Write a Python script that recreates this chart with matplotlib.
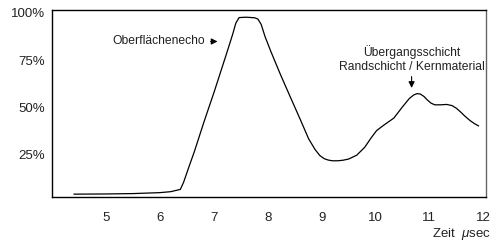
import matplotlib
matplotlib.use("Agg")
import matplotlib.pyplot as plt

plt.rcParams['font.family'] = ['Liberation Sans', 'DejaVu Sans']
plt.rcParams['mathtext.fontset'] = 'custom'
plt.rcParams['mathtext.rm'] = 'Liberation Sans'
plt.rcParams['mathtext.it'] = 'Liberation Sans:italic'

# echo amplitude (%) over time (usec)
zeit = [4.41, 5.0, 5.5, 6.0, 6.2, 6.38, 6.44, 6.55, 6.64, 6.82, 7.01, 7.25, 7.35,
        7.41, 7.47, 7.6, 7.76, 7.82, 7.88, 7.95, 8.06, 8.24, 8.43, 8.6, 8.76,
        8.88, 8.97, 9.05, 9.12, 9.2, 9.3, 9.4, 9.5, 9.65, 9.8, 9.92, 10.02,
        10.15, 10.34, 10.5, 10.63, 10.71, 10.77, 10.83, 10.9, 10.96, 11.03,
        11.1, 11.2, 11.32, 11.42, 11.5, 11.58, 11.66, 11.75, 11.83, 11.91]
amplitude = [4.3, 4.4, 4.6, 5.1, 5.6, 6.8, 10.5, 19.5, 26.7, 42.5, 58.4, 79.5, 88.5,
             94.5, 97.4, 97.6, 97.3, 96.6, 93.8, 87.5, 79.5, 67.2, 54.9, 44.0, 33.5,
             27.8, 24.6, 23.0, 22.3, 21.9, 21.9, 22.2, 22.8, 24.8, 29.0, 34.0, 37.8,
             40.6, 44.4, 50.3, 54.8, 56.6, 57.3, 57.1, 55.8, 54.0, 52.3,
             51.4, 51.4, 51.6, 51.0, 49.6, 47.6, 45.4, 43.2, 41.6, 40.3]

x_ticks = [5, 6, 7, 8, 9, 10, 11, 12]
y_ticks = [25, 50, 75, 100]
y_labels = ['25%', '50%', '75%', '100%']

txt = '#222222'

fig = plt.figure(figsize=(5, 2.5), dpi=100)
ax = fig.add_axes([0.104, 0.212, 0.868, 0.748])

ax.plot(zeit, amplitude, color='black', lw=0.9)

ax.set_xlim(4.0, 12.05)
ax.set_ylim(2.8, 101.4)
ax.set_xticks(x_ticks)
ax.set_yticks(y_ticks)
ax.set_yticklabels(y_labels)
ax.tick_params(axis='x', length=0, pad=10.5, labelsize=9.5, labelcolor=txt)
ax.tick_params(axis='y', length=0, pad=5, labelsize=9.5, labelcolor=txt)
for s in ax.spines.values():
    s.set_linewidth(1.0)
ax.spines['right'].set_color('#666666')

# annotations
ax.annotate('Oberflächenecho', xy=(7.07, 84.8), xytext=(6.84, 84.8),
            ha='right', va='center', fontsize=8.7, color=txt,
            arrowprops=dict(arrowstyle='-|>', color='black', lw=0.8,
                            mutation_scale=9, shrinkA=2, shrinkB=0))
ax.text(10.68, 79.3, 'Übergangsschicht', ha='center', va='center',
        fontsize=8.7, color=txt)
ax.text(10.68, 71.4, 'Randschicht / Kernmaterial', ha='center', va='center',
        fontsize=8.7, color=txt)
ax.annotate('', xy=(10.67, 60.3), xytext=(10.67, 66.3),
            arrowprops=dict(arrowstyle='-|>', color='black', lw=0.8,
                            mutation_scale=9, shrinkA=0, shrinkB=0))

fig.text(491 / 500, 1 - 234 / 250, r'Zeit  $\mu$sec', ha='right', va='center',
         fontsize=9.5, color=txt)

fig.savefig('out.png', dpi=100)
